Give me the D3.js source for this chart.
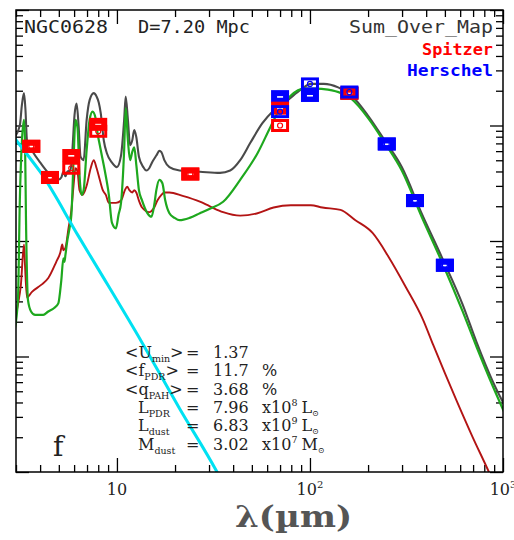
<!DOCTYPE html>
<html><head><meta charset="utf-8">
<script src="https://cdn.jsdelivr.net/npm/d3@7/dist/d3.min.js"></script>
<style>
body{margin:0;background:#fff;}
svg{display:block;}
</style></head><body>
<svg id="c" width="514" height="540"></svg>
<script>
// ---- data: [wavelength (µm), log10(νLν / L⊙)] ----
const totalSED = [[2.92,8.89],[3.14,9.00],[3.22,9.18],[3.30,9.28],[3.36,9.13],[3.42,8.87],[3.67,8.77],[4.00,8.68],[4.41,8.59],[4.73,8.55],
 [4.97,8.53],[5.15,8.55],[5.28,8.60],[5.41,8.56],[5.54,8.60],[5.74,8.61],[5.88,8.79],[6.03,9.09],[6.18,9.19],[6.33,9.00],
 [6.48,8.73],[6.72,8.70],[6.97,9.05],[7.22,9.22],[7.58,9.28],[7.85,9.25],[8.05,9.20],[8.24,9.11],[8.55,8.87],[8.87,8.76],
 [9.42,8.68],[10.0,8.64],[10.5,8.74],[10.9,9.05],[11.1,9.25],[11.4,9.05],[11.7,8.83],[12.0,8.87],[12.3,8.96],[12.6,8.90],
 [13.0,8.73],[13.7,8.64],[14.2,8.61],[14.7,8.63],[15.2,8.68],[16.0,8.74],[16.6,8.78],[17.0,8.77],[17.6,8.70],[18.7,8.64],
 [21.1,8.61],[26.9,8.60],[34.2,8.59],[38.6,8.61],[43.5,8.70],[49.1,8.85],[56.7,9.02],[64.8,9.13],[76.7,9.22],[89.7,9.31],
 [101,9.36],[118,9.36],[140,9.33],[164,9.26],[201,9.08],[244,8.87],[299,8.64],[381,8.23],[485,7.85],[618,7.45],
 [731,7.12],[887,6.78],[1038,6.55]];

const diffuseSED = [[2.92,7.19],[3.07,7.49],[3.14,8.35],[3.22,8.87],[3.30,9.05],[3.34,8.87],[3.38,8.18],[3.46,7.49],[3.59,7.39],[3.77,7.36],
 [4.15,7.36],[4.41,7.39],[4.73,7.42],[4.97,7.46],[5.15,7.66],[5.28,7.85],[5.35,7.82],[5.41,7.88],[5.54,8.01],[5.68,8.11],
 [5.81,8.23],[5.96,8.70],[6.10,9.05],[6.25,8.98],[6.40,8.57],[6.56,8.40],[6.72,8.44],[6.97,8.79],[7.22,9.05],[7.48,9.12],
 [7.76,9.06],[7.96,8.92],[8.15,8.83],[8.35,8.74],[8.65,8.61],[9.08,8.40],[9.42,8.16],[9.88,8.11],[10.2,8.23],[10.5,8.33],
 [10.9,8.79],[11.1,9.15],[11.4,8.87],[11.7,8.70],[12.0,8.77],[12.3,8.81],[12.6,8.66],[13.0,8.44],[13.5,8.35],[14.4,8.24],
 [15.1,8.21],[15.6,8.31],[16.0,8.44],[16.6,8.53],[17.2,8.50],[17.8,8.35],[18.7,8.24],[19.9,8.20],[21.1,8.18],[23.8,8.20],
 [26.9,8.24],[30.3,8.28],[35.5,8.34],[43.5,8.53],[53.5,8.76],[62.5,8.99],[68.0,9.11],[79.6,9.26],[93.1,9.32],[107,9.32],
 [124,9.31],[145,9.28],[164,9.23],[201,9.06],[244,8.85],[299,8.61],[381,8.20],[485,7.81],[618,7.39],[731,7.08],
 [887,6.74],[1038,6.48]];

const pdrSED = [[2.92,7.29],[3.07,7.45],[3.18,7.62],[3.30,7.97],[3.34,7.79],[3.42,7.51],[3.63,7.56],[4.05,7.62],[4.41,7.68],[4.85,7.82],
 [5.09,7.90],[5.21,7.97],[5.28,7.92],[5.41,7.94],[5.61,8.11],[5.81,8.27],[5.96,8.48],[6.10,8.63],[6.25,8.60],[6.40,8.44],
 [6.64,8.40],[6.97,8.48],[7.31,8.63],[7.58,8.70],[7.85,8.63],[8.15,8.53],[8.45,8.44],[8.76,8.40],[9.08,8.33],[9.88,8.33],
 [10.5,8.35],[11.0,8.44],[11.3,8.47],[11.6,8.44],[12.0,8.42],[12.3,8.44],[12.6,8.42],[13.0,8.35],[13.5,8.29],[14.7,8.25],
 [15.6,8.29],[16.2,8.35],[17.0,8.40],[17.6,8.42],[18.7,8.42],[21.9,8.39],[26.9,8.34],[30.3,8.30],[35.5,8.25],[43.5,8.22],
 [53.5,8.24],[64.8,8.29],[79.6,8.31],[101,8.31],[116,8.29],[144,8.27],[172,8.18],[211,8.07],[256,7.86],[314,7.60],
 [385,7.32],[435,7.10],[574,6.62],[697,6.30],[845,6.00],[887,5.92]];

const starSED = [[2.92,8.90],[3.46,8.74],[4.00,8.60],[6.33,8.04],[8.05,7.75],[13.5,7.12],[21.1,6.55],[33.0,6.00],[35.0,5.92]];

const spitzerLam   = [3.6, 4.5, 5.8, 8.0, 24, 70, 160];
const spitzerObs   = [8.82, 8.55, 8.74, 9.01, 8.58, 9.15, 9.28];
const spitzerModel = [8.82, 8.55, 8.63, 8.95, 8.58, 9.00, 9.28];

const herschelLam   = [70, 100, 160, 250, 350, 500];
const herschelObs   = [9.25, 9.26, 9.28, 8.84, 8.35, 7.79];
const herschelModel = [9.12, 9.36, 9.29, 8.84, 8.35, 7.79];

const xTickLabels = [10, 100, 1000];
const paramRows = [
  {pre:"<", sym:"U", sub:"min", post:">", val:"1.37", unit:"", exp:"", uSym:""},
  {pre:"<", sym:"f", sub:"PDR", post:">", val:"11.7", unit:"%", exp:"", uSym:""},
  {pre:"<", sym:"q", sub:"PAH", post:">", val:"3.68", unit:"%", exp:"", uSym:""},
  {pre:"",  sym:"L", sub:"PDR", post:"",  val:"7.96", unit:"x10", exp:"8", uSym:"L"},
  {pre:"",  sym:"L", sub:"dust", post:"", val:"6.83", unit:"x10", exp:"9", uSym:"L"},
  {pre:"",  sym:"M", sub:"dust", post:"", val:"3.02", unit:"x10", exp:"7", uSym:"M"}
];

// ---- layout ----
const svg = d3.select("#c");
const L = 16, R = 503, T = 10, B = 472;
const x = d3.scaleLog().domain([3, 1000]).range([L, R]);
const y = d3.scaleLog().domain([1e6, 1e10]).range([B, T]);
const Y = v => y(Math.pow(10, v));

svg.append("defs").append("clipPath").attr("id","plot")
  .append("rect").attr("x",L).attr("y",T).attr("width",R-L).attr("height",B-T);

// axes ticks
const xAll = x.ticks();
const xMaj = xAll.filter(v => Math.abs(Math.log10(v) - Math.round(Math.log10(v))) < 1e-9);
const xMin = xAll.filter(v => !xMaj.includes(v));
const yAll = y.ticks();
const yMaj = yAll.filter(v => Math.abs(Math.log10(v) - Math.round(Math.log10(v))) < 1e-9);
const yMin = yAll.filter(v => !yMaj.includes(v));

function axis(gen, tr, vals, size){
  const g = svg.append("g").attr("transform", tr)
    .call(gen.tickValues(vals).tickSize(size).tickFormat(""));
  g.select(".domain").remove();
  g.selectAll("line").attr("stroke","#000").attr("stroke-width",1.3);
}
axis(d3.axisBottom(x), `translate(0,${B})`, xMin, -7);
axis(d3.axisBottom(x), `translate(0,${B})`, xMaj, -14);
axis(d3.axisTop(x), `translate(0,${T})`, xMin, -7);
axis(d3.axisTop(x), `translate(0,${T})`, xMaj, -14);
axis(d3.axisLeft(y), `translate(${L},0)`, yMin, -7);
axis(d3.axisLeft(y), `translate(${L},0)`, yMaj, -13);
axis(d3.axisRight(y), `translate(${R},0)`, yMin, -7);
axis(d3.axisRight(y), `translate(${R},0)`, yMaj, -13);

// curves
const line = d3.line().x(d => x(d[0])).y(d => Y(d[1])).curve(d3.curveMonotoneX);
const curves = svg.append("g").attr("clip-path","url(#plot)").attr("fill","none");
curves.append("path").attr("d", line(totalSED)).attr("stroke","#4a4a4a").attr("stroke-width",2.1);
curves.append("path").attr("d", line(pdrSED)).attr("stroke","#b31414").attr("stroke-width",1.9);
curves.append("path").attr("d", line(diffuseSED)).attr("stroke","#1ea81e").attr("stroke-width",2.2);
curves.append("path").attr("d", line(starSED)).attr("stroke","#00e1f2").attr("stroke-width",3);

// photometry boxes
const bw = 15, bh = 10;
function filledBoxes(lams, vals, col){
  const g = svg.append("g");
  lams.forEach((l,i) => {
    g.append("rect").attr("x", x(l)-bw/2).attr("y", Y(vals[i])-bh/2).attr("width",bw).attr("height",bh)
      .attr("fill",col).attr("stroke",col).attr("stroke-width",3);
    g.append("rect").attr("x", x(l)-3).attr("y", Y(vals[i])-0.5).attr("width",6).attr("height",1.6).attr("fill","#fff");
  });
}
function openBoxes(lams, vals, col){
  const g = svg.append("g");
  lams.forEach((l,i) => {
    g.append("rect").attr("x", x(l)-bw/2).attr("y", Y(vals[i])-bh/2).attr("width",bw).attr("height",bh)
      .attr("fill","none").attr("stroke",col).attr("stroke-width",3);
    g.append("circle").attr("cx", x(l)).attr("cy", Y(vals[i])).attr("r",2.5)
      .attr("fill","none").attr("stroke",col).attr("stroke-width",1.2);
  });
}
filledBoxes(herschelLam, herschelObs, "#0000ff");
filledBoxes(spitzerLam, spitzerObs, "#ff0000");
openBoxes(spitzerLam, spitzerModel, "#ff0000");
openBoxes(herschelLam, herschelModel, "#0000ff");

// frame
svg.append("rect").attr("x",L).attr("y",T).attr("width",R-L).attr("height",B-T)
  .attr("fill","none").attr("stroke","#000").attr("stroke-width",1.5);

// x tick labels
xTickLabels.forEach(v => {
  const e = Math.round(Math.log10(v));
  const t = svg.append("text").attr("x", x(v)).attr("y", 495).attr("text-anchor","middle")
    .attr("font-family","DejaVu Serif").attr("font-size",16).attr("fill","#222");
  t.append("tspan").text("10");
  if (e > 1) t.append("tspan").attr("dy",-7).attr("font-size",10).text(e);
});

// x axis title
svg.append("text").attr("x",235).attr("y",527).attr("textLength",117).attr("lengthAdjust","spacingAndGlyphs")
  .attr("font-family","DejaVu Serif").attr("font-weight","bold").attr("font-size",30).attr("fill","#555")
  .text("λ(µm)");

// header texts
const mono = "DejaVu Sans Mono";
svg.append("text").attr("x",24).attr("y",33).attr("textLength",84).attr("lengthAdjust","spacingAndGlyphs")
  .attr("font-family",mono).attr("font-size",17).attr("fill","#222").text("NGC0628");
svg.append("text").attr("x",138).attr("y",33).attr("textLength",112).attr("lengthAdjust","spacingAndGlyphs")
  .attr("font-family",mono).attr("font-size",17).attr("fill","#222").text("D=7.20 Mpc");
svg.append("text").attr("x",349).attr("y",33).attr("textLength",144).attr("lengthAdjust","spacingAndGlyphs")
  .attr("font-family",mono).attr("font-size",17).attr("fill","#333").text("Sum_Over_Map");
svg.append("text").attr("x",422).attr("y",55).attr("textLength",71).attr("lengthAdjust","spacingAndGlyphs")
  .attr("font-family",mono).attr("font-weight","bold").attr("font-size",16).attr("fill","#ff0000").text("Spitzer");
svg.append("text").attr("x",407).attr("y",76).attr("textLength",86).attr("lengthAdjust","spacingAndGlyphs")
  .attr("font-family",mono).attr("font-weight","bold").attr("font-size",16).attr("fill","#0000ff").text("Herschel");

// parameter block
const serif = "DejaVu Serif";
const pg = svg.append("g").attr("font-family",serif).attr("font-size",16).attr("fill","#222");
paramRows.forEach((r,i) => {
  const by = 358 + i*18.3;
  const t = pg.append("text").attr("x", r.pre ? 125 : 138).attr("y", by);
  if (r.pre) t.append("tspan").text(r.pre);
  t.append("tspan").text(r.sym);
  t.append("tspan").attr("dy",4).attr("font-size",9.5).text(r.sub);
  if (r.post) t.append("tspan").attr("dy",-4).text(r.post);
  pg.append("text").attr("x",186).attr("y",by).text("=");
  pg.append("text").attr("x",213).attr("y",by).text(r.val);
  if (r.unit) {
    const u = pg.append("text").attr("x",262).attr("y",by);
    u.append("tspan").text(r.unit);
    if (r.exp) {
      u.append("tspan").attr("dy",-7).attr("font-size",9.5).text(r.exp);
      u.append("tspan").attr("dy",7).attr("dx",4).text(r.uSym);
      u.append("tspan").attr("dy",3).attr("font-size",8).text("⊙");
    }
  }
});

// panel letter
svg.append("text").attr("x",53).attr("y",456).attr("font-family",serif).attr("font-size",28)
  .attr("fill","#222").text("f");
</script>
</body></html>
